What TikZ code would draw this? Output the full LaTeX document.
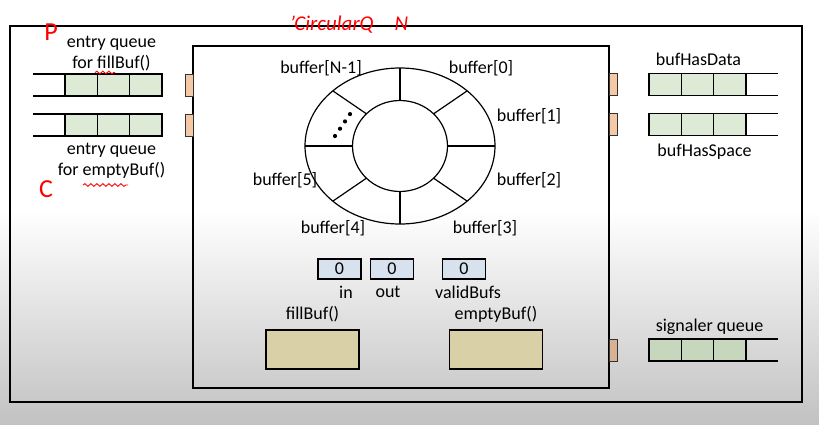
\documentclass[tikz,border=0pt]{standalone}
\usepackage{fontspec}
\setmainfont{Carlito}
\usetikzlibrary{positioning,decorations.pathmorphing}

\definecolor{qgreen}{HTML}{DDEBD6}
\definecolor{sgreen}{HTML}{C6D7BD}
\definecolor{doorc}{HTML}{F5C9A6}
\definecolor{varblue}{HTML}{D8E2EE}
\definecolor{proctan}{HTML}{DAD0A8}

\begin{document}
\begin{tikzpicture}[x=1pt,y=-1pt
% Box styles
		, frame/.style={rectangle
							    , draw=black, line width=1.4pt
							    , inner sep=0pt}
		, cell/.style={rectangle
							    , fill=qgreen
							    , draw=black, line width=1.2pt
							    , minimum width=32.3pt
							    , minimum height=22pt
							    , inner sep=0pt
							    , outer sep=0pt}
		, door/.style={rectangle
							    , fill=doorc
							    , draw=black!80, line width=0.8pt
							    , minimum width=8pt
							    , minimum height=22pt
							    , inner sep=0pt}
		, var/.style={rectangle
							    , fill=varblue
							    , draw=black, line width=1.1pt
							    , minimum width=43pt
							    , minimum height=20pt
							    , inner sep=0pt
							    , font=\fontsize{18}{21}\selectfont}
		, proc/.style={rectangle
							    , fill=proctan
							    , draw=black, line width=1.2pt
							    , minimum width=93pt
							    , minimum height=39pt
							    , inner sep=0pt}
% Text styles
		, lbl/.style={inner sep=0pt
							    , align=center
							    , font=\fontsize{18}{21}\selectfont}
		, note/.style={inner sep=0pt
							    , text=red
							    , font=\fontsize{26}{28}\selectfont}
		, qline/.style={draw=black, line width=1.2pt}
		, squiggle/.style={draw=red, line width=0.9pt
							    , decorate
							    , decoration={snake, amplitude=1.3pt, segment length=6pt}}
	]
\useasboundingbox (0,0) rectangle (819,424);
%% Background
	\fill[white] (0,0) rectangle (819,424);
	\shade[top color=white, bottom color=black!24] (0,210) rectangle (819,424);
%% Monitor frames
	\node[frame, minimum width=792pt, minimum height=376pt] (outer) at (406,214) {};
	\node[frame, minimum width=416pt, minimum height=342pt] (monitor) at (401,217) {};
%% Entry queues (left)
	\node[cell] (fa1) at (81.2,85) {};
	\node[cell, right=0pt of fa1] (fa2) {};
	\node[cell, right=0pt of fa2] (fa3) {};
	\coordinate (fa0) at (33,85);
	\draw[qline] (fa1.north west) -- (fa0 |- fa1.north)
	             (fa1.south west) -- (fa0 |- fa1.south);
	\node[cell] (fb1) at (81.2,125) {};
	\node[cell, right=0pt of fb1] (fb2) {};
	\node[cell, right=0pt of fb2] (fb3) {};
	\coordinate (fb0) at (33,125);
	\draw[qline] (fb1.north west) -- (fb0 |- fb1.north)
	             (fb1.south west) -- (fb0 |- fb1.south);
	\node[lbl, above=3pt of fa2, xshift=-2pt] (fill) {entry queue\\for fillBuf()};
	\node[lbl, below=7pt of fb2, xshift=-2pt] (empty) {entry queue\\for emptyBuf()};
	\node[door] (dl1) at (189,85) {};
	\node[door] (dl2) at (189,125) {};
%% Condition queues (right)
	\node[cell] (ra1) at (665.2,84.5) {};
	\node[cell, right=0pt of ra1] (ra2) {};
	\node[cell, right=0pt of ra2] (ra3) {};
	\coordinate (ra4) at (778,84.5);
	\draw[qline] (ra3.north east) -- (ra4 |- ra3.north)
	             (ra3.south east) -- (ra4 |- ra3.south);
	\node[cell] (rb1) at (665.2,124.5) {};
	\node[cell, right=0pt of rb1] (rb2) {};
	\node[cell, right=0pt of rb2] (rb3) {};
	\coordinate (rb4) at (778,124.5);
	\draw[qline] (rb3.north east) -- (rb4 |- rb3.north)
	             (rb3.south east) -- (rb4 |- rb3.south);
	\node[lbl, above=8pt of ra2, xshift=1pt] (hasdata) {bufHasData};
	\node[lbl, below=8pt of rb2, xshift=7pt] (hasspace) {bufHasSpace};
	\node[door] (dr1) at (613,84.5) {};
	\node[door] (dr2) at (613,124.5) {};
%% Signaler queue
	\node[cell, fill=sgreen] (sq1) at (665.2,350) {};
	\node[cell, fill=sgreen, right=0pt of sq1] (sq2) {};
	\node[cell, fill=sgreen, right=0pt of sq2] (sq3) {};
	\coordinate (sq4) at (778,350);
	\draw[qline] (sq3.north east) -- (sq4 |- sq3.north)
	             (sq3.south east) -- (sq4 |- sq3.south);
	\node[lbl, above=4pt of sq2, xshift=12pt] (signaler) {signaler queue};
	\node[door, fill=doorc!88!black] (ds) at (613,350) {};
%% Circular buffer
	\coordinate (ctr) at (400,146);
	\draw[qline] (ctr) ellipse [x radius=95, y radius=78];
	\draw[qline] (ctr) ellipse [x radius=47.5, y radius=45.5];
	\foreach \a in {0,45,...,315}
	  \draw[qline] ([shift={(\a:47.5 and 45.5)}]ctr) -- ([shift={(\a:95 and 78)}]ctr);
	\foreach \t in {0,1,2,3}
	  \fill ([shift={(\t*5,-\t*7.3)}]335,136) circle (2.1);
	\node[lbl] (b0)  at (481,68)  {buffer[0]};
	\node[lbl] (b1)  at (529,116) {buffer[1]};
	\node[lbl] (b2)  at (529,180) {buffer[2]};
	\node[lbl] (b3)  at (485,228) {buffer[3]};
	\node[lbl] (b4)  at (333,228) {buffer[4]};
	\node[lbl] (b5)  at (285,180) {buffer[5]};
	\node[lbl] (bn1) at (321,68)  {buffer[N-1]};
%% Shared variables
	\node[var] (vin)    at (339.5,269) {0};
	\node[var] (vout)   at (392,269)   {0};
	\node[var] (vvalid) at (464,269)   {0};
	\node[lbl] (lin)    at (346,292)   {in};
	\node[lbl] (lout)   at (388,292)   {out};
	\node[lbl] (lvalid) at (468,292)   {validBufs};
%% Procedures
	\node[proc] (pfill)  at (312.5,349.5) {};
	\node[proc] (pempty) at (496,349.5)   {};
	\node[lbl, above=7pt of pfill]  (lfill)  {fillBuf()};
	\node[lbl, above=7pt of pempty] (lempty) {emptyBuf()};
%% Handwritten notes
	\node[note] (np) at (51,32)  {P};
	\node[note] (nc) at (46,189) {C};
	\node[note, font=\fontsize{21}{24}\selectfont\itshape] (nq) at (349,25) {'CircularQ\quad N};
	\coordinate (sqa) at (95,72.5);
	\coordinate (sqb) at (115,72.5);
	\coordinate (sqc) at (83,185);
	\coordinate (sqd) at (128,185);
	\draw[squiggle] (sqa) -- (sqb);
	\draw[squiggle] (sqc) -- (sqd);
\end{tikzpicture}
\end{document}
